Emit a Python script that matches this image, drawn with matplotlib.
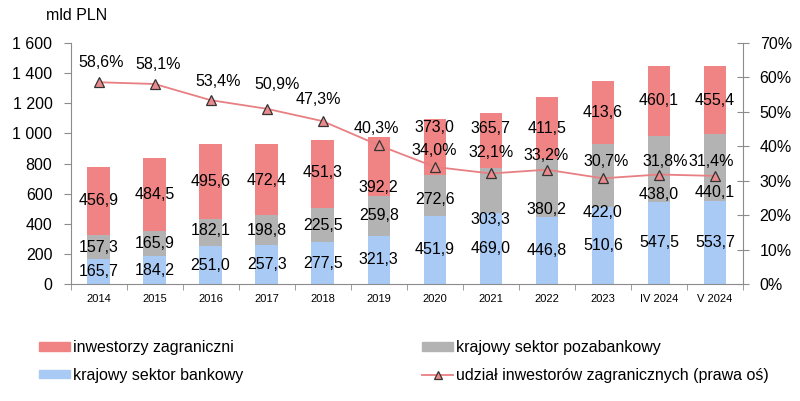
import numpy as np
import matplotlib.pyplot as plt
from matplotlib.patches import Patch
from matplotlib.lines import Line2D

plt.rcParams['font.family'] = ['Liberation Sans', 'DejaVu Sans']

# data
categories = ['2014', '2015', '2016', '2017', '2018', '2019', '2020', '2021',
              '2022', '2023', 'IV 2024', 'V 2024']
bank = [165.7, 184.2, 251.0, 257.3, 277.5, 321.3, 451.9, 469.0, 446.8, 510.6, 547.5, 553.7]
nonbank = [157.3, 165.9, 182.1, 198.8, 225.5, 259.8, 272.6, 303.3, 380.2, 422.0, 438.0, 440.1]
foreign = [456.9, 484.5, 495.6, 472.4, 451.3, 392.2, 373.0, 365.7, 411.5, 413.6, 460.1, 455.4]
share = [58.6, 58.1, 53.4, 50.9, 47.3, 40.3, 34.0, 32.1, 33.2, 30.7, 31.8, 31.4]

# label nudges (pixels), as in the original layout
gray_dy = [0, 0, -2, 0, 0, -1, 4, 29, 21, 37, 26, 25]
red_dy = [0, 0, 0, 1, -2, 21, -19, -12, 0, 0, 0, 0]
pct_dx = [3, 4, 8, 10, -4, -2, -1, 0, -1, 3, 6, -4]
pct_dy = [20, 19, 19, 24, 22, 17, 16, 21, 14, 17, 13, 14]

c_red = '#F08484'
c_gray = '#B3B3B3'
c_blue = '#A8CAF4'
c_line = '#E87F82'
c_axis = '#8C8C8C'

fig = plt.figure(figsize=(8, 4.01), dpi=100)
ax = fig.add_axes([70.5 / 800, 1 - 284 / 401, (743 - 70.5) / 800, 241 / 401])

x = np.arange(len(categories))
bank = np.array(bank)
nonbank = np.array(nonbank)
foreign = np.array(foreign)
w = 0.4
ax.bar(x, bank, w, color=c_blue, zorder=2)
ax.bar(x, nonbank, w, bottom=bank, color=c_gray, zorder=2)
ax.bar(x, foreign, w, bottom=bank + nonbank, color=c_red, zorder=2)

fs = 11.5
fmt = lambda v: f'{v:.1f}'.replace('.', ',')
for i in range(len(x)):
    ax.annotate(fmt(bank[i]), (x[i], bank[i] / 2), ha='center', va='center',
                fontsize=fs, zorder=5)
    ax.annotate(fmt(nonbank[i]), (x[i], bank[i] + nonbank[i] / 2),
                xytext=(0, -gray_dy[i]), textcoords='offset pixels',
                ha='center', va='center', fontsize=fs, zorder=5)
    ax.annotate(fmt(foreign[i]), (x[i], bank[i] + nonbank[i] + foreign[i] / 2),
                xytext=(0, -red_dy[i]), textcoords='offset pixels',
                ha='center', va='center', fontsize=fs, zorder=5)

ax.set_xlim(-0.5, len(x) - 0.5)
ax.set_ylim(0, 1600)
ax.set_yticks(range(0, 1601, 200))
ax.set_yticklabels([f'{v:,}'.replace(',', ' ') for v in range(0, 1601, 200)], fontsize=fs)
ax.set_xticks(x)
ax.set_xticklabels(categories, fontsize=8)
ax.set_xticks(np.arange(-0.5, len(x), 1), minor=True)
ax.tick_params(axis='x', which='major', length=0, pad=7)
ax.tick_params(axis='x', which='minor', length=4, color=c_axis, direction='out')
ax.tick_params(axis='y', length=5, color=c_axis, pad=8)
for s in ['top', 'right']:
    ax.spines[s].set_visible(False)
for s in ['left', 'bottom']:
    ax.spines[s].set_color(c_axis)

ax2 = ax.twinx()
ax2.plot(x, share, color=c_line, lw=1.3, marker='^', ms=7,
         markerfacecolor='#E98A8C', markeredgecolor='#333333', markeredgewidth=0.9, zorder=4)
for i in range(len(x)):
    ax2.annotate(fmt(share[i]) + '%', (x[i], share[i]), xytext=(pct_dx[i], pct_dy[i]),
                 textcoords='offset pixels', ha='center', va='center', fontsize=fs, zorder=6)
ax2.set_ylim(0, 70)
ax2.set_yticks(range(0, 71, 10))
ax2.set_yticklabels([f'{v}%' for v in range(0, 71, 10)], fontsize=fs)
ax2.tick_params(axis='y', length=8, direction='inout', color=c_axis, pad=8)
for s in ['top', 'left', 'bottom']:
    ax2.spines[s].set_visible(False)
ax2.spines['right'].set_color(c_axis)

fig.text(77 / 800, 1 - 15 / 401, 'mld PLN', ha='center', va='center', fontsize=fs)

leg_kw = dict(loc='upper left', frameon=False, fontsize=fs, borderpad=0,
              handlelength=1.95, handleheight=0.45, handletextpad=0.2, labelspacing=0.8)
fig.legend(handles=[Patch(color=c_red, label='inwestorzy zagraniczni'),
                    Patch(color=c_blue, label='krajowy sektor bankowy')],
           bbox_to_anchor=(31 / 800, 1 - 332 / 401), **leg_kw)
fig.legend(handles=[Patch(color=c_gray, label='krajowy sektor pozabankowy'),
                    Line2D([], [], color=c_line, lw=1.3, marker='^', ms=6,
                           markerfacecolor='#E98A8C', markeredgecolor='#333333',
                           markeredgewidth=0.9,
                           label='udział inwestorów zagranicznych (prawa oś)')],
           bbox_to_anchor=(414 / 800, 1 - 332 / 401), **leg_kw)

fig.savefig('out.png', dpi=100)
